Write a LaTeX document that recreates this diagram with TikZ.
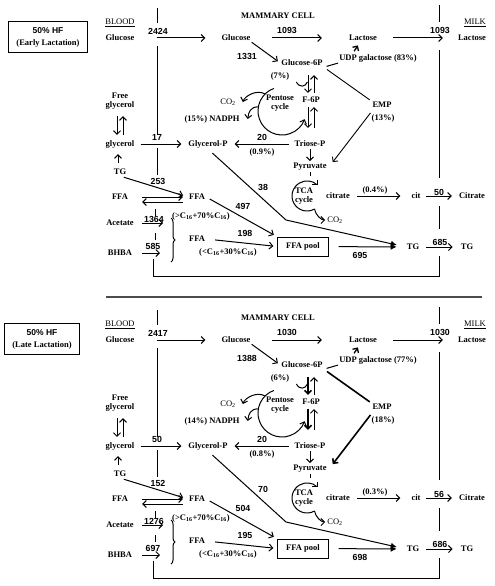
\documentclass[tikz,border=0pt]{standalone}
\usepackage{fontspec}
\setmainfont{Liberation Serif}
\setsansfont{Liberation Sans}
\usetikzlibrary{arrows.meta,decorations.pathreplacing}

\tikzset{
  txt/.style={font=\fontsize{8.5}{8.5}\selectfont\bfseries, inner sep=1pt, align=center},
  reg/.style={font=\fontsize{8.5}{8.5}\selectfont, inner sep=1pt},
  num/.style={font=\fontsize{8.8}{10}\selectfont\sffamily\bfseries, inner sep=0.5pt},
  flow/.style={line width=1pt, -{Straight Barb[length=3.5pt,width=7pt]}},
  into/.style={line width=1pt, -{Latex[length=6pt,width=6pt]}},
  wall/.style={line width=1pt},
  sa/.style={shorten <=#1pt},
  sb/.style={shorten >=#1pt}
}

\begin{document}
\begin{tikzpicture}[x=1pt,y=1pt,yscale=-1]
\useasboundingbox (0,0) rectangle (495,586);

\draw[line width=1.4pt, black!70] (106,297) -- (482,297);

\foreach \oy/\tx/\stg/\nglc/\nlac/\ngsp/\pgp/\pudp/\pnad/\pemp/\ngly/\ptri/\ntg/\nglyp/\nffa/\nace/\nbhb/\nffb/\pcit/\ncit/\npool/\nmtg/\wemp in
  {0/48/Early/2424/1093/1331/7/83/15/13/17/0.9/253/38/497/1364/585/198/0.4/50/695/685/0.9,
   302/42/Late/2417/1030/1388/6/77/14/18/50/0.8/152/70/504/1276/697/195/0.3/56/698/686/1.6}{
\begin{scope}[shift={(0,\oy)}]
% title and compartments
\node[txt, draw, line width=1.2pt, inner xsep=8pt, inner ysep=6pt] (stage) at (\tx,37) {{\sffamily 50\% HF}\\[3.5pt](\stg{} Lactation)};
\node[reg] (blood) at (120,23) {\underline{BLOOD}};
\node[txt] (cell) at (278,16) {MAMMARY CELL};
\node[reg] (milk) at (475,23) {\underline{MILK}};
\draw[wall] (157,8) -- (157,23) (157,46) -- (157,135) (157,148) -- (157,175)
  (155,209) -- (155,216) (155,233) -- (155,240);
\draw[wall] (153,259) -- (153,276) -- (439,276) -- (439,256);
\draw[wall] (439,5) -- (439,22) (439,50) -- (439,178) (439,206) -- (439,229);

% blood
\node[txt] (bglc) at (120,38) {Glucose};
\node[txt] (fgly) at (120,101) {Free\\glycerol};
\node[txt] (gly) at (120,144) {glycerol};
\node[txt] (btg) at (120,172) {TG};
\node[txt] (bffa) at (120,197) {FFA};
\node[txt] (ace) at (120,223) {Acetate};
\node[txt] (bhba) at (120,253) {BHBA};

% mammary cell
\node[txt] (cglc) at (236,38) {Glucose};
\node[txt] (clac) at (363,38) {Lactose};
\node[txt] (g6p) at (302,63) {Glucose-6P};
\node[txt] (udp) at (378,58) {UDP galactose (\pudp\%)};
\node[txt] (pg6p) at (280,76) {(\pgp\%)};
\node[txt] (f6p) at (311,100) {F-6P};
\node[txt] (pent) at (280,103) {Pentose\\cycle};
\node[reg] (co2a) at (228,102) {CO\textsubscript{2}};
\node[txt] (nadph) at (212,119) {(\pnad\%) NADPH};
\node[txt] (emp) at (382,105) {EMP};
\node[txt] (pemp) at (383,118) {(\pemp\%)};
\node[txt] (tri) at (310,144) {Triose-P};
\node[txt] (pyr) at (310,167) {Pyruvate};
\node[txt] (glyp) at (208,144) {Glycerol-P};
\node[txt] (cffa) at (197,197) {FFA};
\node[txt] (lcfa) at (201,216) {(>C\textsubscript{16}+70\%C\textsubscript{16})};
\node[txt] (cffb) at (197,239) {FFA};
\node[txt] (scfa) at (228,252) {(<C\textsubscript{16}+30\%C\textsubscript{16})};
\node[txt, draw, minimum width=51pt, minimum height=19pt] (pool) at (303,246.5) {FFA pool};
\node[txt] (tca) at (304,196) {TCA\\cycle};
\node[txt] (cit1) at (338,196) {citrate};
\node[reg] (co2b) at (335,220) {CO\textsubscript{2}};
\node[txt] (cit) at (416,196) {cit};
\node[txt] (ctg) at (413,247) {TG};

% milk
\node[txt] (mlac) at (472,38) {Lactose};
\node[txt] (mcit) at (472,196) {Citrate};
\node[txt] (mtg) at (467,247) {TG};

% flux values
\node[num] (lglc) at (158,31) {\nglc};
\node[num] (llac) at (287,30) {\nlac};
\node[num] (lmlk) at (440,30) {\nlac};
\node[num] (lg6p) at (247,56) {\ngsp};
\node[num] (lgly) at (157,137) {\ngly};
\node[num] (ltri) at (262,137) {20};
\node[txt] (ptri) at (262,152) {(\ptri\%)};
\node[num] (ltg) at (158,181) {\ntg};
\node[num] (lglp) at (263,187) {\nglyp};
\node[num] (lffa) at (243,206) {\nffa};
\node[num] (lace) at (154,219) {\nace};
\node[num] (lbhb) at (153,246) {\nbhb};
\node[num] (lffb) at (245,233) {\nffb};
\node[num] (lpool) at (360,255) {\npool};
\node[txt] (pcit) at (375,190) {(\pcit\%)};
\node[num] (lcit) at (439,192) {\ncit};
\node[num] (lmtg) at (440,242) {\nmtg};

% glucose and lactose
\draw[flow, sa=21, sb=15] (bglc) -- (cglc);
\draw[flow, sa=20, sb=26] (cglc) -- (clac);
\draw[flow, sa=15, sb=14] (clac) -- (mlac);
\draw[flow, sb=3] (cglc.south east) -- (g6p.west);
\draw[wall, sa=3] (g6p.south east) -- (udp.south west);
\draw[flow, line width=1.3pt, sa=2, sb=4] ([xshift=15pt]udp.north west) -- ([xshift=-3pt]clac.south);
\draw[wall, line width=\wemp pt, sa=4, sb=2] (g6p.south east) -- (emp.north west);
\draw[flow, line width=\wemp pt] (pemp.north west) -- ([xshift=5pt]pyr.north east);
\draw[flow, line width=\wemp pt, sa=8, sb=3] ([xshift=-3pt]f6p.north |- g6p.south) -- ([xshift=-3pt]f6p.north);
\draw[flow, sa=3, sb=8] ([xshift=3pt]f6p.north) -- ([xshift=3pt]f6p.north |- g6p.south);
\draw[flow, line width=\wemp pt, sa=3, sb=12] ([xshift=-3pt]f6p.south) -- ([xshift=-3pt]f6p.south |- tri.north);
\draw[flow, sa=12, sb=3] ([xshift=3pt]f6p.south |- tri.north) -- ([xshift=3pt]f6p.south);

% pentose cycle
\coordinate (pc) at (282,111);
\draw[wall] ([shift={(6,6)}]pg6p.east) .. controls +(3,6) and +(-2,5) .. ++(11,0);
\draw[flow] ([shift={(250:24)}]pc) arc[start angle=250, end angle=20, radius=24];
\draw[flow] ([shift={(225:24)}]pc) .. controls +(-8,-5) and +(2,-6) .. ([xshift=6pt]co2a.east);
\draw[flow] ([shift={(190:24)}]pc) .. controls +(-8,0) and +(1,-7) .. ([xshift=7pt]nadph.east);

% glycolysis and TCA
\draw[flow, sa=5, sb=6] (tri) -- (glyp);
\draw[flow, sa=1, sb=1] (tri) -- (pyr);
\coordinate (tcc) at (307,196);
\draw[wall] (pyr.south) -- ++(0,4);
\draw[flow] ([shift={(60:15)}]tcc) arc[start angle=60, end angle=315, radius=15];
\draw[flow, sb=1] ([shift={(60:15)}]tcc) .. controls +(1,6) and +(-5,0) .. (co2b.west);
\draw[flow, sa=6, sb=10] (cit1) -- (cit);
\draw[flow, sa=4, sb=6] (cit) -- (mcit);

% glycerol and fatty acids
\draw[flow, sa=5, sb=6] (gly) -- (glyp);
\draw[flow, sa=6, sb=4] ([xshift=-3pt]fgly.south) -- ([xshift=-3pt]gly.north);
\draw[flow, sa=4, sb=6] ([xshift=3pt]gly.north) -- ([xshift=3pt]fgly.south);
\draw[flow, sa=5, sb=5] ([xshift=-2pt]btg.north) -- ([xshift=-2pt]gly.south);
\draw[flow, sa=4, sb=5] (btg.south) -- (cffa.west);
\draw[flow, sa=13, sb=5] (bffa) -- (cffa);
\draw[flow, sa=5, sb=13] ([yshift=5pt]cffa.west) -- ([yshift=5pt]bffa.east);
\coordinate (acein) at (163,223);
\coordinate (bhbin) at (160,253);
\draw[flow, sa=7] (ace) -- (acein);
\draw[flow, sa=9] (bhba) -- (bhbin);
\draw[wall, decorate, decoration={brace, amplitude=4pt}] (171,218) -- (171,262);
\draw[flow, sa=4, sb=4] (cffa.east) -- (pool.north west);
\draw[flow, sa=9, sb=4] (cffb.east) -- (pool.west);
\draw[into, sa=10, sb=9] (pool) -- (ctg);
\coordinate (kink) at (286,220);
\draw[into, sa=6, sb=9] (glyp.south) -- (kink) -- (ctg.west);
\draw[flow, sa=6, sb=7] (ctg) -- (mtg);
\end{scope}
}
\end{tikzpicture}
\end{document}
